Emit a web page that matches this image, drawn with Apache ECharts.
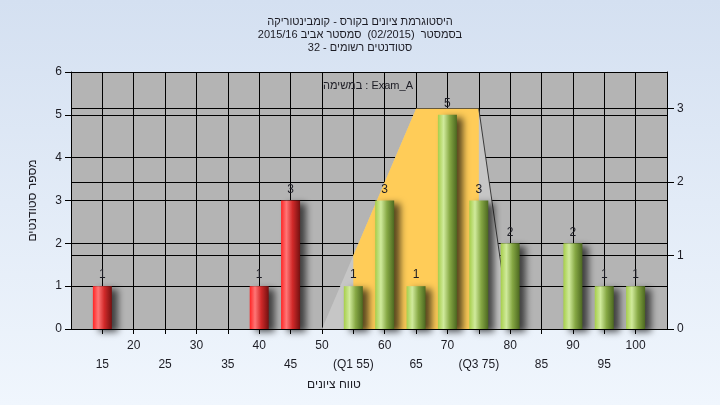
<!DOCTYPE html>
<html>
<head>
<meta charset="utf-8">
<script src="https://cdn.jsdelivr.net/npm/echarts@6/dist/echarts.min.js"></script>
<style>
html,body{margin:0;padding:0;}
#c{width:720px;height:405px;}
</style>
</head>
<body>
<div id="c"></div>
<script>
// ---- data ----
var titleLines = [
  'היסטוגרמת ציונים בקורס - קומבינטוריקה',
  'בסמסטר  (02/2015)  סמסטר אביב 2015/16',
  'סטודנטים רשומים - 32'
];
var taskLabel = 'במשימה : Exam_A';
var xAxisName = 'טווח ציונים';
var yAxisName = 'מספר סטודנטים';
var gradeBins = [15, 20, 25, 30, 35, 40, 45, 50, 55, 60, 65, 70, 75, 80, 85, 90, 95, 100];
var counts    = [ 1,  0,  0,  0,  0,  1,  3,  0,  1,  3,  1,  5,  3,  2,  0,  2,  1,  1];
var passMark = 55;
var q1 = 55, q3 = 75;
var q1Label = '(Q1 55)', q3Label = '(Q3 75)';
var distShape = [[50, 0], [65, 3], [75, 3], [80, 0]];   // right axis
var iqrBand   = [[55, 1], [65, 3], [75, 3]];            // right axis
var xMin = 10, xMax = 105, xStep = 5;
var yLeftMax = 6, yRightMax = 3.5;

// ---- build ----
var failData = [], passData = [];
gradeBins.forEach(function (g, i) {
  if (!counts[i]) return;
  (g < passMark ? failData : passData).push([g, counts[i]]);
});

var FONT = '"Liberation Sans", "DejaVu Sans", Arial, sans-serif';
var TXT = '#1c1c24';

function grad(stops) {
  return new echarts.graphic.LinearGradient(0, 0, 1, 0, stops.map(function (s) {
    return { offset: s[0], color: s[1] };
  }));
}
var redGrad = grad([[0, '#ff2424'], [0.28, '#ff7676'], [0.6, '#d22a2a'], [1, '#741010']]);
var greenGrad = grad([[0, '#a6ce4a'], [0.3, '#d0ea9c'], [0.62, '#86a844'], [1, '#4c6820']]);

var barCommon = {
  type: 'bar',
  barWidth: 19,
  barGap: '-100%',
  z: 5,
  label: {
    show: true, position: 'top', distance: 5,
    color: TXT, fontSize: 12, fontFamily: FONT
  },
  silent: true
};

var chart = echarts.init(document.getElementById('c'), null, { renderer: 'canvas' });
chart.setOption({
  animation: false,
  backgroundColor: new echarts.graphic.LinearGradient(0, 0, 0, 1, [
    { offset: 0, color: '#d4e0f1' }, { offset: 1, color: '#f0f6fd' }
  ]),
  textStyle: { fontFamily: FONT },
  title: {
    text: titleLines.join('\n'),
    left: 'center', top: 10,
    textStyle: { fontSize: 11, fontWeight: 'normal', lineHeight: 13, color: TXT, fontFamily: FONT }
  },
  grid: { left: 71, right: 53, top: 72, bottom: 76, show: true, backgroundColor: '#b4b4b4', borderWidth: 0 },
  graphic: [{
    type: 'text', x: 368, y: 86, z: 10,
    style: { text: taskLabel, textAlign: 'center', textVerticalAlign: 'middle', fill: TXT, font: '11px ' + FONT }
  }],
  xAxis: {
    type: 'value', min: xMin, max: xMax, interval: xStep,
    name: xAxisName, nameLocation: 'middle', nameGap: 45,
    nameTextStyle: { color: TXT, fontSize: 12, padding: [0, 70, 0, 0] },
    axisLine: { show: true, lineStyle: { color: '#000', width: 1 } },
    axisTick: { show: true, length: 5, lineStyle: { color: '#000' } },
    splitLine: { show: true, lineStyle: { color: '#000', width: 1 } },
    axisLabel: {
      color: TXT, fontSize: 12, margin: 7, lineHeight: 19,
      showMinLabel: false, showMaxLabel: false,
      formatter: function (v) {
        if (v === xMin || v === xMax) return '';
        var s = String(v);
        if (v === q1) s = q1Label;
        if (v === q3) s = q3Label;
        return (Math.round(v / xStep) % 2 === 1) ? '\n' + s : s;
      }
    }
  },
  yAxis: [{
    type: 'value', min: 0, max: yLeftMax, interval: 1, position: 'left',
    name: yAxisName, nameLocation: 'middle', nameGap: 32,
    nameTextStyle: { color: TXT, fontSize: 12 },
    axisLine: { show: true, lineStyle: { color: '#000', width: 1 } },
    axisTick: { show: true, length: 6, lineStyle: { color: '#000' } },
    splitLine: { show: true, lineStyle: { color: '#000', width: 1 } },
    axisLabel: { color: TXT, fontSize: 12, margin: 9 }
  }, {
    type: 'value', min: 0, max: yRightMax, interval: 1, position: 'right',
    axisLine: { show: true, lineStyle: { color: '#000', width: 1 } },
    axisTick: { show: true, length: 7, lineStyle: { color: '#000' } },
    splitLine: { show: true, lineStyle: { color: '#000', width: 1 } },
    axisLabel: {
      color: TXT, fontSize: 12, margin: 10, showMaxLabel: false,
      formatter: function (v) { return v === yRightMax ? '' : String(v); }
    }
  }],
  series: [{
    type: 'line', yAxisIndex: 1, data: distShape, symbol: 'none', silent: true, z: 2,
    lineStyle: { width: 0, opacity: 0 },
    areaStyle: { color: '#c6c6c6', opacity: 1 }
  }, {
    type: 'line', yAxisIndex: 1, data: iqrBand, symbol: 'none', silent: true, z: 3,
    lineStyle: { width: 0, opacity: 0 },
    areaStyle: { color: '#ffcc58', opacity: 1 }
  }, {
    type: 'line', yAxisIndex: 1, data: distShape.slice(2), symbol: 'none', silent: true, z: 4,
    lineStyle: { width: 1, color: '#3a3a3a' }
  }, Object.assign({}, barCommon, {
    data: failData,
    itemStyle: { color: redGrad, shadowColor: 'rgba(0,0,0,0.65)', shadowBlur: 7, shadowOffsetX: 6, shadowOffsetY: 3 }
  }), Object.assign({}, barCommon, {
    data: passData,
    itemStyle: { color: greenGrad, shadowColor: 'rgba(0,0,0,0.65)', shadowBlur: 7, shadowOffsetX: 6, shadowOffsetY: 3 }
  })]
});
</script>
</body>
</html>
